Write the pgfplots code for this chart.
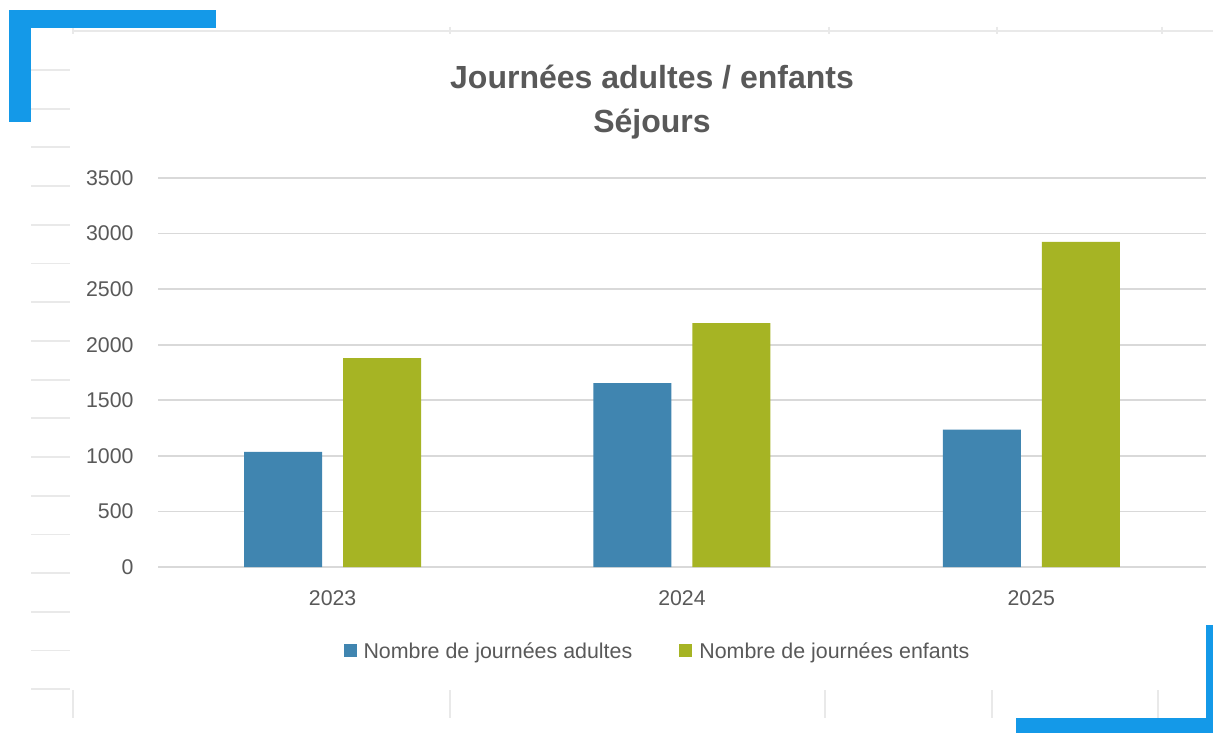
\documentclass[border=0pt]{standalone}
\usepackage{fontspec}
\setmainfont{Liberation Sans}
\usepackage{pgfplots}
\pgfplotsset{compat=1.18}
\definecolor{bracketblue}{HTML}{1499E8}
\definecolor{barblue}{HTML}{4085B0}
\definecolor{bargreen}{HTML}{A6B424}
\definecolor{txtgray}{HTML}{595959}
\definecolor{gridgray}{HTML}{D9D9D9}
\definecolor{bggray}{HTML}{E9E9E9}
\begin{document}
\begin{tikzpicture}
\path[use as bounding box] (0,0) rectangle (1213pt,-733pt);
\begin{scope}[x=1pt,y=-1pt]
  \fill[white] (0,0) rectangle (1213,733);
  % faint background sheet lines
  \foreach \i in {0,...,16} {\draw[bggray, line width=1.8pt] (31,{70+\i*38.7}) -- (70,{70+\i*38.7});}
  \draw[bggray, line width=1.8pt] (73,31) -- (1213,31);
  \foreach \xx in {73,450,829,997,1162} {\draw[bggray, line width=1.2pt] (\xx,27) -- (\xx,34);}
  \foreach \xx in {73,450,825,992,1158} {\draw[bggray, line width=1.5pt] (\xx,690) -- (\xx,718);}
\end{scope}
\begin{axis}[
  at={(158pt,-567pt)}, anchor=south west,
  scale only axis, width=1048pt, height=389pt,
  xmin=-0.5, xmax=2.5, ymin=0, ymax=3500,
  ybar=21pt, bar width=78pt,
  xtick={0,1,2}, xticklabels={2023,2024,2025},
  ytick={0,500,...,3500},
  ymajorgrids, grid style={gridgray, line width=1.6pt},
  axis line style={draw=none},
  major tick length=0pt,
  tick label style={font=\fontsize{21.3}{25}\selectfont, text=txtgray},
  /pgf/number format/assume math mode=true,
  /pgf/number format/1000 sep={},
  scaled y ticks=false,
  yticklabel style={xshift=-21pt},
  xticklabel style={yshift=-20pt},
  legend columns=2,
  legend style={at={(0.4766,-0.2159)}, anchor=center, draw=none, fill=none,
    font=\fontsize{21.4}{25}\selectfont, text=txtgray,
    /tikz/every even column/.append style={column sep=45pt}},
  legend image code/.code={\path[#1,draw=none] (0pt,-6.5pt) rectangle (13pt,6.5pt); \path (18pt,0pt);},
]
\addplot[fill=barblue, draw=none] coordinates {(0,1035) (1,1655) (2,1235)};
\addplot[fill=bargreen, draw=none] coordinates {(0,1880) (1,2195) (2,2925)};
\legend{Nombre de journées adultes, Nombre de journées enfants}
\end{axis}
\node[text=txtgray, font=\bfseries\fontsize{32}{38}\selectfont] at (652pt,-77pt) {Journées adultes / enfants};
\node[text=txtgray, font=\bfseries\fontsize{32}{38}\selectfont] at (652pt,-124pt) {Séjours};
\begin{scope}[x=1pt,y=-1pt]
  \fill[bracketblue] (9,10) rectangle (216,28);
  \fill[bracketblue] (9,10) rectangle (31,122);
  \fill[bracketblue] (1206,625) rectangle (1213,733);
  \fill[bracketblue] (1016,718) rectangle (1213,733);
\end{scope}
\end{tikzpicture}
\end{document}
